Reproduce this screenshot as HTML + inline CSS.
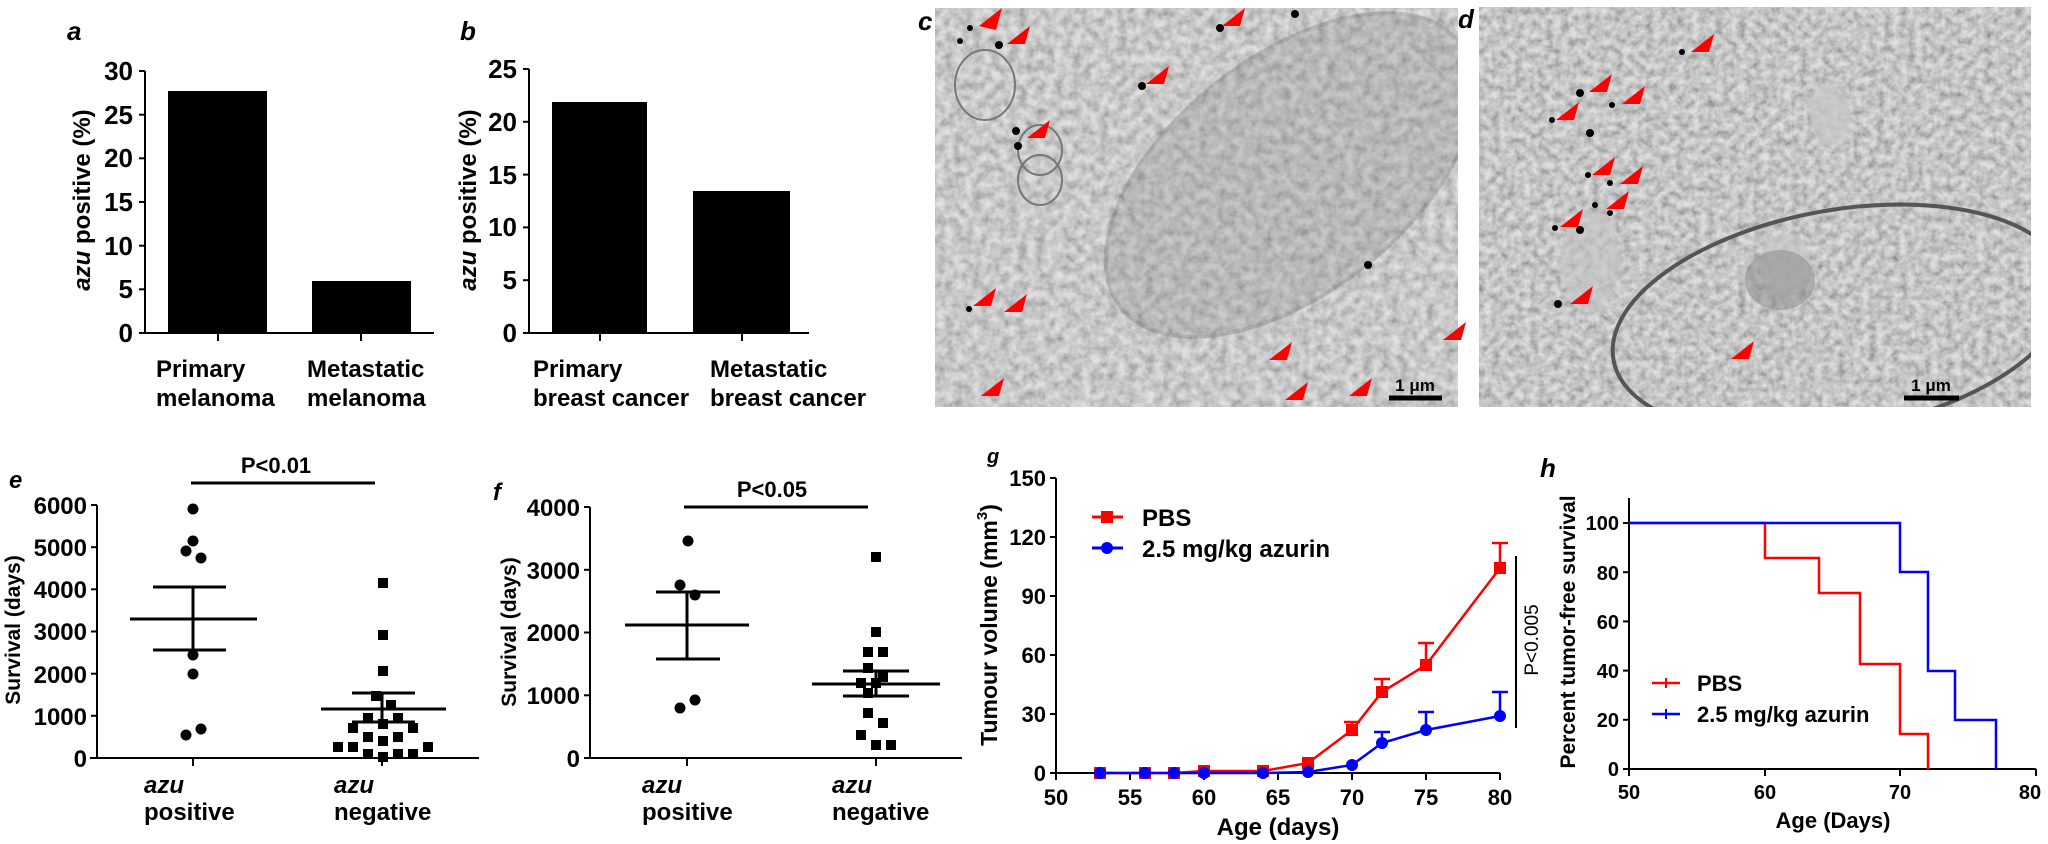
<!DOCTYPE html>
<html><head><meta charset="utf-8"><style>
html,body{margin:0;padding:0;background:#fff;}
svg{display:block;}
text{font-family:"Liberation Sans",Arial,sans-serif;font-weight:bold;fill:#000;}
</style></head><body>
<svg width="2048" height="844" viewBox="0 0 2048 844" xmlns="http://www.w3.org/2000/svg">
<defs>
<filter id="em" x="0" y="0" width="100%" height="100%">
<feTurbulence type="fractalNoise" baseFrequency="0.11" numOctaves="4" seed="5"/>
<feColorMatrix type="matrix" values="1.1 0 0 0 0.12  1.1 0 0 0 0.12  1.1 0 0 0 0.12  0 0 0 0 1"/>
</filter>
<filter id="em2" x="0" y="0" width="100%" height="100%">
<feTurbulence type="fractalNoise" baseFrequency="0.13" numOctaves="4" seed="11"/>
<feColorMatrix type="matrix" values="1.2 0 0 0 0.06  1.2 0 0 0 0.06  1.2 0 0 0 0.06  0 0 0 0 1"/>
</filter>
<clipPath id="cc"><rect x="935" y="8" width="523" height="399"/></clipPath>
<clipPath id="cd"><rect x="1479" y="7" width="552" height="400"/></clipPath>
</defs>

<!-- Panel a -->
<text x="67" y="40" font-size="26" font-style="italic">a</text>
<g stroke="#000" stroke-width="2" fill="none">
<line x1="145" y1="71" x2="145" y2="334"/>
<line x1="140" y1="333" x2="434" y2="333"/>
<line x1="139" y1="333" x2="145" y2="333"/><line x1="139" y1="289.3" x2="145" y2="289.3"/><line x1="139" y1="245.7" x2="145" y2="245.7"/><line x1="139" y1="202" x2="145" y2="202"/><line x1="139" y1="158.3" x2="145" y2="158.3"/><line x1="139" y1="114.7" x2="145" y2="114.7"/><line x1="139" y1="71" x2="145" y2="71"/>
<line x1="218" y1="333" x2="218" y2="341"/><line x1="361" y1="333" x2="361" y2="341"/>
</g>
<g font-size="26" text-anchor="end">
<text x="133" y="342">0</text><text x="133" y="298">5</text><text x="133" y="255">10</text><text x="133" y="211">15</text><text x="133" y="167">20</text><text x="133" y="124">25</text><text x="133" y="80">30</text>
</g>
<rect x="168" y="91" width="99" height="242" fill="#000"/>
<rect x="312" y="281" width="99" height="52" fill="#000"/>
<text transform="translate(90,200) rotate(-90)" font-size="24" text-anchor="middle"><tspan font-style="italic">azu</tspan> positive (%)</text>
<g font-size="24"><text x="156" y="377">Primary</text><text x="156" y="406">melanoma</text><text x="307" y="377">Metastatic</text><text x="307" y="406">melanoma</text></g>

<!-- Panel b -->
<text x="460" y="40" font-size="26" font-style="italic">b</text>
<g stroke="#000" stroke-width="2" fill="none">
<line x1="529" y1="69" x2="529" y2="334"/>
<line x1="525" y1="333" x2="809" y2="333"/>
<line x1="523" y1="333" x2="529" y2="333"/><line x1="523" y1="280.2" x2="529" y2="280.2"/><line x1="523" y1="227.4" x2="529" y2="227.4"/><line x1="523" y1="174.6" x2="529" y2="174.6"/><line x1="523" y1="121.8" x2="529" y2="121.8"/><line x1="523" y1="69" x2="529" y2="69"/>
<line x1="600" y1="333" x2="600" y2="341"/><line x1="742" y1="333" x2="742" y2="341"/>
</g>
<g font-size="26" text-anchor="end">
<text x="517" y="342">0</text><text x="517" y="289">5</text><text x="517" y="236">10</text><text x="517" y="184">15</text><text x="517" y="131">20</text><text x="517" y="78">25</text>
</g>
<rect x="552" y="102" width="95" height="231" fill="#000"/>
<rect x="693" y="191" width="97" height="142" fill="#000"/>
<text transform="translate(476,200) rotate(-90)" font-size="24" text-anchor="middle"><tspan font-style="italic">azu</tspan> positive (%)</text>
<g font-size="24"><text x="533" y="377">Primary</text><text x="533" y="406">breast cancer</text><text x="710" y="377">Metastatic</text><text x="710" y="406">breast cancer</text></g>

<!-- Panel c -->
<text x="918" y="30" font-size="26" font-style="italic">c</text>
<g clip-path="url(#cc)">
<rect x="935" y="8" width="523" height="399" filter="url(#em)"/>
<rect x="935" y="8" width="523" height="399" fill="#b4b4b4" opacity="0.4"/>
<ellipse cx="1290" cy="175" rx="215" ry="118" transform="rotate(-38 1290 175)" fill="#8a8a8a" opacity="0.25" stroke="#555" stroke-width="4"/>
<ellipse cx="985" cy="85" rx="30" ry="35" fill="none" stroke="#777" stroke-width="2"/>
<ellipse cx="1040" cy="150" rx="22" ry="25" fill="none" stroke="#777" stroke-width="2"/>
<ellipse cx="1040" cy="180" rx="22" ry="25" fill="none" stroke="#777" stroke-width="2"/>
</g>
<g fill="#000">
<circle cx="970" cy="28" r="3"/><circle cx="960" cy="41" r="3"/><circle cx="999" cy="45" r="4"/><circle cx="1220" cy="28" r="4"/><circle cx="1295" cy="14" r="4"/><circle cx="1142" cy="86" r="4"/><circle cx="1016" cy="131" r="4"/><circle cx="1018" cy="146" r="4"/><circle cx="969" cy="309" r="3"/><circle cx="1368" cy="265" r="4"/>
</g>
<g fill="#ff0000">
<polygon points="979,26 1002,8 996,30"/><polygon points="1007,44 1030,26 1025,44"/><polygon points="1222,26 1245,8 1240,26"/><polygon points="1146,84 1169,66 1164,84"/><polygon points="1027,138 1050,120 1045,138"/><polygon points="973,306 996,288 991,306"/>
<polygon points="1004,312 1027,294 1022,312"/><polygon points="1443,340 1466,322 1461,340"/><polygon points="1269,360 1292,342 1287,360"/><polygon points="1349,396 1372,378 1367,396"/><polygon points="1285,400 1308,382 1303,400"/><polygon points="981,396 1004,378 999,396"/>
</g>
<line x1="1389" y1="398" x2="1442" y2="398" stroke="#000" stroke-width="5"/>
<text x="1415" y="391" font-size="17" text-anchor="middle">1 μm</text>

<!-- Panel d -->
<text x="1458" y="28" font-size="26" font-style="italic">d</text>
<g clip-path="url(#cd)">
<rect x="1479" y="7" width="552" height="400" filter="url(#em2)"/>
<rect x="1479" y="7" width="552" height="400" fill="#b0b0b0" opacity="0.4"/>
<ellipse cx="1840" cy="320" rx="230" ry="110" transform="rotate(-10 1840 320)" fill="none" stroke="#555" stroke-width="4"/>
<ellipse cx="1785" cy="265" rx="26" ry="32" fill="#c8c8c8" opacity="0.7"/>
<ellipse cx="1830" cy="115" rx="20" ry="30" fill="#c8c8c8" opacity="0.7"/>
<ellipse cx="1590" cy="260" rx="30" ry="50" fill="#c4c4c4" opacity="0.6"/>
<ellipse cx="1780" cy="280" rx="35" ry="30" fill="#888" opacity="0.5"/>
</g>
<g fill="#000">
<circle cx="1682" cy="52" r="3"/><circle cx="1580" cy="93" r="4"/><circle cx="1612" cy="105" r="3"/><circle cx="1552" cy="120" r="3"/><circle cx="1590" cy="133" r="4"/><circle cx="1588" cy="175" r="3"/><circle cx="1610" cy="183" r="3"/><circle cx="1595" cy="205" r="3"/><circle cx="1610" cy="213" r="3"/><circle cx="1555" cy="228" r="3"/><circle cx="1580" cy="230" r="4"/><circle cx="1558" cy="304" r="4"/>
</g>
<g fill="#ff0000">
<polygon points="1691,52 1714,34 1709,52"/><polygon points="1589,92 1612,74 1607,92"/><polygon points="1622,104 1645,86 1640,104"/><polygon points="1556,120 1579,102 1574,120"/><polygon points="1592,175 1615,157 1610,175"/><polygon points="1620,184 1643,166 1638,184"/><polygon points="1606,209 1629,191 1624,209"/><polygon points="1560,227 1583,209 1578,227"/><polygon points="1570,304 1593,286 1588,304"/><polygon points="1731,359 1754,341 1749,359"/>
</g>
<line x1="1904" y1="398" x2="1959" y2="398" stroke="#000" stroke-width="5"/>
<text x="1931" y="391" font-size="17" text-anchor="middle">1 μm</text>

<!-- Panel e -->
<text x="9" y="488" font-size="24" font-style="italic">e</text>
<text x="276" y="473" font-size="22" text-anchor="middle">P&lt;0.01</text>
<line x1="191" y1="483" x2="375" y2="483" stroke="#000" stroke-width="3"/>
<g stroke="#000" stroke-width="2">
<line x1="97" y1="505" x2="97" y2="759"/><line x1="90" y1="758" x2="479" y2="758"/>
<line x1="91" y1="758" x2="97" y2="758"/><line x1="91" y1="715.8" x2="97" y2="715.8"/><line x1="91" y1="673.7" x2="97" y2="673.7"/><line x1="91" y1="631.5" x2="97" y2="631.5"/><line x1="91" y1="589.3" x2="97" y2="589.3"/><line x1="91" y1="547.2" x2="97" y2="547.2"/><line x1="91" y1="505" x2="97" y2="505"/>
<line x1="193" y1="758" x2="193" y2="766"/><line x1="382" y1="758" x2="382" y2="766"/>
</g>
<g font-size="24" text-anchor="end">
<text x="87" y="767">0</text><text x="87" y="725">1000</text><text x="87" y="683">2000</text><text x="87" y="640">3000</text><text x="87" y="598">4000</text><text x="87" y="556">5000</text><text x="87" y="514">6000</text>
</g>
<text transform="translate(20,630) rotate(-90)" font-size="21" text-anchor="middle">Survival (days)</text>
<g fill="#000">
<circle cx="193" cy="509" r="5.5"/><circle cx="193" cy="541" r="5.5"/><circle cx="186" cy="551" r="5.5"/><circle cx="201" cy="558" r="5.5"/><circle cx="193" cy="655" r="5.5"/><circle cx="193" cy="674" r="5.5"/><circle cx="201" cy="729" r="5.5"/><circle cx="186" cy="735" r="5.5"/>
</g>
<g stroke="#000" stroke-width="3">
<line x1="130" y1="619" x2="257" y2="619"/><line x1="153" y1="587" x2="226" y2="587"/><line x1="153" y1="650" x2="226" y2="650"/><line x1="193" y1="587" x2="193" y2="650"/>
</g>
<g fill="#000">
<rect x="378" y="578" width="10" height="10"/><rect x="378" y="630" width="10" height="10"/><rect x="378" y="666" width="10" height="10"/><rect x="371" y="691" width="10" height="10"/><rect x="386" y="700" width="10" height="10"/>
<rect x="363" y="713" width="10" height="10"/><rect x="393" y="713" width="10" height="10"/><rect x="378" y="719" width="10" height="10"/><rect x="348" y="723" width="10" height="10"/><rect x="408" y="723" width="10" height="10"/>
<rect x="363" y="732" width="10" height="10"/><rect x="393" y="732" width="10" height="10"/><rect x="378" y="736" width="10" height="10"/>
<rect x="333" y="742" width="10" height="10"/><rect x="348" y="742" width="10" height="10"/><rect x="423" y="742" width="10" height="10"/>
<rect x="363" y="749" width="10" height="10"/><rect x="393" y="749" width="10" height="10"/><rect x="408" y="749" width="10" height="10"/><rect x="378" y="752" width="10" height="10"/>
</g>
<g stroke="#000" stroke-width="3">
<line x1="321" y1="709" x2="446" y2="709"/><line x1="352" y1="693" x2="415" y2="693"/><line x1="352" y1="722" x2="415" y2="722"/><line x1="382" y1="693" x2="382" y2="722"/>
</g>
<g font-size="24"><text x="144" y="793" font-style="italic">azu</text><text x="144" y="820">positive</text><text x="334" y="793" font-style="italic">azu</text><text x="334" y="820">negative</text></g>

<!-- Panel f -->
<text x="493" y="500" font-size="24" font-style="italic">f</text>
<text x="772" y="497" font-size="22" text-anchor="middle">P&lt;0.05</text>
<line x1="684" y1="507" x2="868" y2="507" stroke="#000" stroke-width="3"/>
<g stroke="#000" stroke-width="2">
<line x1="590" y1="507" x2="590" y2="759"/><line x1="585" y1="758" x2="962" y2="758"/>
<line x1="584" y1="758" x2="590" y2="758"/><line x1="584" y1="695.3" x2="590" y2="695.3"/><line x1="584" y1="632.5" x2="590" y2="632.5"/><line x1="584" y1="569.8" x2="590" y2="569.8"/><line x1="584" y1="507" x2="590" y2="507"/>
<line x1="687" y1="758" x2="687" y2="766"/><line x1="876" y1="758" x2="876" y2="766"/>
</g>
<g font-size="24" text-anchor="end">
<text x="580" y="767">0</text><text x="580" y="704">1000</text><text x="580" y="641">2000</text><text x="580" y="579">3000</text><text x="580" y="516">4000</text>
</g>
<text transform="translate(516,632) rotate(-90)" font-size="21" text-anchor="middle">Survival (days)</text>
<g fill="#000">
<circle cx="688" cy="541" r="5.5"/><circle cx="680" cy="585" r="5.5"/><circle cx="695" cy="595" r="5.5"/><circle cx="695" cy="700" r="5.5"/><circle cx="680" cy="708" r="5.5"/>
</g>
<g stroke="#000" stroke-width="3">
<line x1="625" y1="625" x2="749" y2="625"/><line x1="656" y1="592" x2="720" y2="592"/><line x1="656" y1="659" x2="720" y2="659"/><line x1="687" y1="592" x2="687" y2="659"/>
</g>
<g fill="#000">
<rect x="871" y="552" width="10" height="10"/><rect x="871" y="627" width="10" height="10"/><rect x="863" y="647" width="10" height="10"/><rect x="878" y="647" width="10" height="10"/><rect x="863" y="663" width="10" height="10"/><rect x="878" y="672" width="10" height="10"/><rect x="856" y="678" width="10" height="10"/><rect x="871" y="678" width="10" height="10"/><rect x="863" y="688" width="10" height="10"/><rect x="863" y="708" width="10" height="10"/><rect x="878" y="718" width="10" height="10"/><rect x="856" y="730" width="10" height="10"/><rect x="871" y="740" width="10" height="10"/><rect x="886" y="740" width="10" height="10"/>
</g>
<g stroke="#000" stroke-width="3">
<line x1="812" y1="684" x2="940" y2="684"/><line x1="843" y1="671" x2="909" y2="671"/><line x1="843" y1="696" x2="909" y2="696"/><line x1="876" y1="671" x2="876" y2="696"/>
</g>
<g font-size="24"><text x="642" y="793" font-style="italic">azu</text><text x="642" y="820">positive</text><text x="832" y="793" font-style="italic">azu</text><text x="832" y="820">negative</text></g>

<!-- Panel g -->
<text x="987" y="463" font-size="20" font-style="italic">g</text>
<g stroke="#000" stroke-width="2">
<line x1="1056" y1="478" x2="1056" y2="774"/><line x1="1056" y1="773" x2="1500" y2="773"/>
<line x1="1050" y1="773" x2="1056" y2="773"/><line x1="1050" y1="714" x2="1056" y2="714"/><line x1="1050" y1="655" x2="1056" y2="655"/><line x1="1050" y1="596" x2="1056" y2="596"/><line x1="1050" y1="537" x2="1056" y2="537"/><line x1="1050" y1="478" x2="1056" y2="478"/>
<line x1="1056" y1="773" x2="1056" y2="780"/><line x1="1130" y1="773" x2="1130" y2="780"/><line x1="1204" y1="773" x2="1204" y2="780"/><line x1="1278" y1="773" x2="1278" y2="780"/><line x1="1352" y1="773" x2="1352" y2="780"/><line x1="1426" y1="773" x2="1426" y2="780"/><line x1="1500" y1="773" x2="1500" y2="780"/>
</g>
<g font-size="22" text-anchor="end">
<text x="1046" y="781">0</text><text x="1046" y="722">30</text><text x="1046" y="663">60</text><text x="1046" y="604">90</text><text x="1046" y="545">120</text><text x="1046" y="486">150</text>
</g>
<g font-size="22" text-anchor="middle">
<text x="1056" y="805">50</text><text x="1130" y="805">55</text><text x="1204" y="805">60</text><text x="1278" y="805">65</text><text x="1352" y="805">70</text><text x="1426" y="805">75</text><text x="1500" y="805">80</text>
</g>
<text x="1278" y="835" font-size="24" text-anchor="middle">Age (days)</text>
<text transform="translate(997,625) rotate(-90)" font-size="23" text-anchor="middle">Tumour volume (mm<tspan font-size="15" dy="-10">3</tspan><tspan dy="10">)</tspan></text>
<g stroke="#ff0000" stroke-width="2.5" fill="none">
<polyline points="1100,773 1145,773 1174,773 1204,771 1263,771 1308,763 1352,730 1382,692 1426,665 1500,568"/>
<line x1="1352" y1="730" x2="1352" y2="722"/><line x1="1344" y1="722" x2="1360" y2="722"/>
<line x1="1382" y1="692" x2="1382" y2="679"/><line x1="1374" y1="679" x2="1390" y2="679"/>
<line x1="1426" y1="665" x2="1426" y2="643"/><line x1="1418" y1="643" x2="1434" y2="643"/>
<line x1="1500" y1="568" x2="1500" y2="543"/><line x1="1492" y1="543" x2="1508" y2="543"/>
</g>
<g fill="#ff0000">
<rect x="1094" y="767" width="12" height="12"/><rect x="1139" y="767" width="12" height="12"/><rect x="1168" y="767" width="12" height="12"/><rect x="1198" y="765" width="12" height="12"/><rect x="1257" y="765" width="12" height="12"/><rect x="1302" y="757" width="12" height="12"/><rect x="1346" y="724" width="12" height="12"/><rect x="1376" y="686" width="12" height="12"/><rect x="1420" y="659" width="12" height="12"/><rect x="1494" y="562" width="12" height="12"/>
</g>
<g stroke="#0000ff" stroke-width="2.5" fill="none">
<polyline points="1100,773 1145,773 1174,773 1204,773 1263,773 1308,772 1352,765 1382,743 1426,730 1500,716"/>
<line x1="1382" y1="743" x2="1382" y2="732"/><line x1="1374" y1="732" x2="1390" y2="732"/>
<line x1="1426" y1="730" x2="1426" y2="712"/><line x1="1418" y1="712" x2="1434" y2="712"/>
<line x1="1500" y1="716" x2="1500" y2="692"/><line x1="1492" y1="692" x2="1508" y2="692"/>
</g>
<g fill="#0000ff">
<circle cx="1100" cy="773" r="6"/><circle cx="1145" cy="773" r="6"/><circle cx="1174" cy="773" r="6"/><circle cx="1204" cy="773" r="6"/><circle cx="1263" cy="773" r="6"/><circle cx="1308" cy="772" r="6"/><circle cx="1352" cy="765" r="6"/><circle cx="1382" cy="743" r="6"/><circle cx="1426" cy="730" r="6"/><circle cx="1500" cy="716" r="6"/>
</g>
<line x1="1092" y1="517" x2="1123" y2="517" stroke="#ff0000" stroke-width="3"/><rect x="1101" y="511" width="12" height="12" fill="#ff0000"/>
<text x="1142" y="526" font-size="24">PBS</text>
<line x1="1092" y1="548" x2="1123" y2="548" stroke="#0000ff" stroke-width="3"/><circle cx="1107" cy="548" r="6" fill="#0000ff"/>
<text x="1142" y="557" font-size="24">2.5 mg/kg azurin</text>
<line x1="1516" y1="556" x2="1516" y2="728" stroke="#000" stroke-width="2"/>
<text transform="translate(1538,640) rotate(-90)" font-size="19" text-anchor="middle" style="font-weight:normal">P&lt;0.005</text>

<!-- Panel h -->
<text x="1540" y="477" font-size="26" font-style="italic">h</text>
<g stroke="#000" stroke-width="2">
<line x1="1629" y1="498" x2="1629" y2="770"/><line x1="1629" y1="769" x2="2036" y2="769"/>
<line x1="1623" y1="769" x2="1629" y2="769"/><line x1="1623" y1="719.8" x2="1629" y2="719.8"/><line x1="1623" y1="670.6" x2="1629" y2="670.6"/><line x1="1623" y1="621.4" x2="1629" y2="621.4"/><line x1="1623" y1="572.2" x2="1629" y2="572.2"/><line x1="1623" y1="523" x2="1629" y2="523"/>
<line x1="1629" y1="769" x2="1629" y2="776"/><line x1="1765" y1="769" x2="1765" y2="776"/><line x1="1900" y1="769" x2="1900" y2="776"/><line x1="2036" y1="769" x2="2036" y2="776"/>
</g>
<g font-size="20" text-anchor="end">
<text x="1619" y="776">0</text><text x="1619" y="727">20</text><text x="1619" y="678">40</text><text x="1619" y="629">60</text><text x="1619" y="580">80</text><text x="1619" y="530">100</text>
</g>
<g font-size="20" text-anchor="middle">
<text x="1629" y="799">50</text><text x="1765" y="799">60</text><text x="1900" y="799">70</text><text x="2030" y="799">80</text>
</g>
<text x="1833" y="828" font-size="22" text-anchor="middle">Age (Days)</text>
<text transform="translate(1575,632) rotate(-90)" font-size="21" text-anchor="middle">Percent tumor-free survival</text>
<polyline points="1629,523 1765,523 1765,558 1819,558 1819,593 1860,593 1860,664 1900,664 1900,734 1928,734 1928,769" fill="none" stroke="#ff0000" stroke-width="2.5"/>
<polyline points="1629,523 1900,523 1900,572 1928,572 1928,671 1955,671 1955,720 1996,720 1996,769" fill="none" stroke="#0000ff" stroke-width="2.5"/>
<line x1="1652" y1="683" x2="1680" y2="683" stroke="#ff0000" stroke-width="2.5"/><line x1="1666" y1="678" x2="1666" y2="688" stroke="#ff0000" stroke-width="2"/>
<text x="1697" y="691" font-size="22">PBS</text>
<line x1="1652" y1="714" x2="1680" y2="714" stroke="#0000ff" stroke-width="2.5"/><line x1="1666" y1="709" x2="1666" y2="719" stroke="#0000ff" stroke-width="2"/>
<text x="1697" y="722" font-size="22">2.5 mg/kg azurin</text>
</svg>
</body></html>
